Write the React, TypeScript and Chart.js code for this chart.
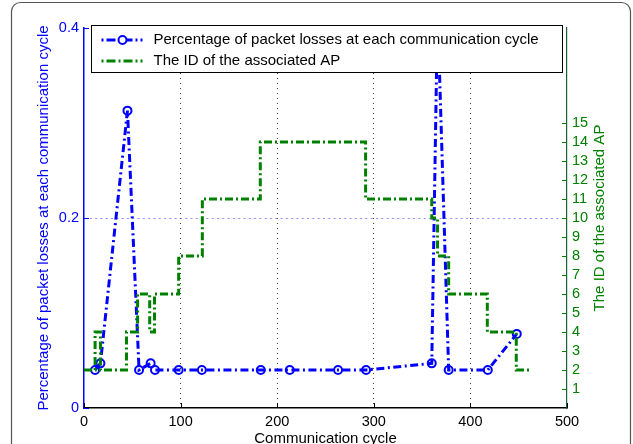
import React, { useEffect, useRef } from "react";
import { Chart, registerables } from "chart.js";

Chart.register(...registerables);

// Axis ticks
const CYCLE_TICKS = [0, 100, 200, 300, 400, 500];
const LOSS_TICKS = [0, 0.2, 0.4];
const AP_TICKS = [1, 2, 3, 4, 5, 6, 7, 8, 9, 10, 11, 12, 13, 14, 15];

// Packet loss measured at the cycles where something happened
const LOSS_CYCLES = [11.5, 17, 45, 57, 69, 73.5, 98, 122, 183, 213, 263, 292, 360, 366, 377.5, 418, 448];
const LOSS_VALUES = [0.04, 0.047, 0.313, 0.04, 0.047, 0.04, 0.04, 0.04, 0.04, 0.04, 0.04, 0.04, 0.047, 0.42, 0.04, 0.04, 0.078];

// Associated AP, held from each cycle until the next entry
const HANDOVER_CYCLES = [0, 11.5, 17, 44, 55.5, 68, 73, 98, 122.5, 182.5, 291.5, 360, 366, 377.5, 417.5, 447.5, 463];
const AP_IDS = [2, 4, 2, 4, 6, 4, 6, 8, 11, 14, 11, 10, 8, 6, 4, 2, 2];

const LOSS_LABEL = "Percentage of packet losses at each communication cycle";
const AP_LABEL = "The ID of the associated AP";
const X_LABEL = "Communication cycle";

const BLUE = "#0000ff";
const GREEN = "#008000";
const FONT = "'Liberation Sans', Arial, Helvetica, sans-serif";
const BLUE_DASH = [8, 3.5, 2, 3.5];
const GREEN_DASH = [8, 3, 2, 3];
const TEXT_SIZE = 15;
const TICK_SIZE = 14.5;

const W = 633;
const H = 444;

const decorations = {
  id: "decorations",
  beforeDraw(chart: any) {
    const { ctx } = chart;
    ctx.save();
    ctx.fillStyle = "#ffffff";
    ctx.fillRect(0, 0, chart.width, chart.height);
    // rounded frame around the figure
    const l = 11.5, r = 630.5, t = 2.5, rad = 9;
    ctx.strokeStyle = "#555555";
    ctx.lineWidth = 1.2;
    ctx.beginPath();
    ctx.moveTo(l, chart.height + 5);
    ctx.lineTo(l, t + rad);
    ctx.arcTo(l, t, l + rad, t, rad);
    ctx.lineTo(r - rad, t);
    ctx.arcTo(r, t, r, t + rad, rad);
    ctx.lineTo(r, chart.height + 5);
    ctx.stroke();
    ctx.restore();
  },
  afterDraw(chart: any) {
    const { ctx, chartArea: ca, scales } = chart;
    const midY = (ca.top + ca.bottom) / 2;
    ctx.save();

    // inward tick marks
    ctx.lineWidth = 1;
    ctx.strokeStyle = "#000";
    CYCLE_TICKS.forEach((v) => {
      const x = Math.round(scales.x.getPixelForValue(v)) + 0.5;
      ctx.beginPath();
      ctx.moveTo(x, ca.bottom);
      ctx.lineTo(x, ca.bottom - 5);
      ctx.stroke();
    });
    ctx.strokeStyle = BLUE;
    LOSS_TICKS.forEach((v) => {
      const y = Math.round(scales.y.getPixelForValue(v)) + 0.5;
      ctx.beginPath();
      ctx.moveTo(ca.left, y);
      ctx.lineTo(ca.left + 5, y);
      ctx.stroke();
    });
    ctx.strokeStyle = GREEN;
    AP_TICKS.forEach((v) => {
      const y = Math.round(scales.y2.getPixelForValue(v)) + 0.5;
      ctx.beginPath();
      ctx.moveTo(ca.right, y);
      ctx.lineTo(ca.right - 5, y);
      ctx.stroke();
    });

    // axis titles
    ctx.font = `${TEXT_SIZE}px ${FONT}`;
    ctx.textAlign = "center";
    ctx.textBaseline = "middle";
    ctx.fillStyle = BLUE;
    ctx.save();
    ctx.translate(44, midY);
    ctx.rotate(-Math.PI / 2);
    ctx.fillText(LOSS_LABEL, 0, 0);
    ctx.restore();
    ctx.fillStyle = GREEN;
    ctx.save();
    ctx.translate(600, midY);
    ctx.rotate(-Math.PI / 2);
    ctx.fillText(AP_LABEL, 0, 0);
    ctx.restore();
    ctx.fillStyle = "#000";
    ctx.textBaseline = "alphabetic";
    ctx.fillText(X_LABEL, (ca.left + ca.right) / 2, 443);

    // legend box
    const bl = ca.left + 7.5, bt = ca.top - 2.5, br = ca.right - 4.5, bb = ca.top + 44.5;
    ctx.fillStyle = "#fff";
    ctx.fillRect(bl, bt, br - bl, bb - bt);
    ctx.strokeStyle = "#000";
    ctx.lineWidth = 1;
    ctx.strokeRect(bl, bt, br - bl, bb - bt);

    const sx0 = bl + 10, sx1 = bl + 51, sxm = bl + 31;
    const row1 = bt + 14.5, row2 = bt + 35.5;
    ctx.lineWidth = 3;
    ctx.strokeStyle = BLUE;
    ctx.setLineDash([2, 3, 9, 3]);
    ctx.beginPath();
    ctx.moveTo(sx0, row1);
    ctx.lineTo(sx1, row1);
    ctx.stroke();
    ctx.setLineDash([]);
    ctx.lineWidth = 2;
    ctx.fillStyle = "#fff";
    ctx.beginPath();
    ctx.arc(sxm, row1, 4, 0, Math.PI * 2);
    ctx.fill();
    ctx.stroke();

    ctx.lineWidth = 3;
    ctx.strokeStyle = GREEN;
    ctx.setLineDash([2, 3, 9, 3]);
    ctx.beginPath();
    ctx.moveTo(sx0, row2);
    ctx.lineTo(sx1, row2);
    ctx.stroke();
    ctx.setLineDash([]);

    ctx.fillStyle = "#000";
    ctx.textAlign = "left";
    ctx.textBaseline = "middle";
    ctx.fillText(LOSS_LABEL, sx1 + 11, row1);
    ctx.fillText(AP_LABEL, sx1 + 11, row2);

    ctx.restore();
  },
};

export default function App() {
  const canvasRef = useRef<HTMLCanvasElement | null>(null);

  useEffect(() => {
    const canvas = canvasRef.current;
    if (!canvas) return;
    Chart.defaults.font.family = FONT;

    const lossPoints = LOSS_CYCLES.map((x, i) => ({ x, y: LOSS_VALUES[i] }));
    const apPoints = HANDOVER_CYCLES.map((x, i) => ({ x, y: AP_IDS[i] }));

    const chart = new Chart(canvas, {
      type: "line",
      data: {
        datasets: [
          {
            label: AP_LABEL,
            data: apPoints,
            yAxisID: "y2",
            borderColor: GREEN,
            borderWidth: 3,
            borderDash: GREEN_DASH,
            stepped: "before",
            pointRadius: 0,
            fill: false,
          },
          {
            label: LOSS_LABEL,
            data: lossPoints,
            yAxisID: "y",
            borderColor: BLUE,
            borderWidth: 3,
            borderDash: BLUE_DASH,
            pointRadius: 4,
            pointBorderWidth: 2,
            pointBorderColor: BLUE,
            pointBackgroundColor: "rgba(0,0,0,0)",
            tension: 0,
            fill: false,
          },
        ],
      },
      options: {
        animation: false,
        responsive: false,
        devicePixelRatio: 1,
        events: [],
        layout: { padding: { top: 28, left: 0, right: 0, bottom: 0 } },
        plugins: { legend: { display: false }, tooltip: { enabled: false } },
        scales: {
          x: {
            type: "linear",
            min: 0,
            max: 500,
            afterBuildTicks: (axis: any) => {
              axis.ticks = CYCLE_TICKS.map((value) => ({ value }));
            },
            afterFit: (axis: any) => {
              axis.height = H - 408;
            },
            ticks: {
              color: "#000",
              font: { size: TICK_SIZE },
              padding: 5,
              maxRotation: 0,
              callback: (v: any) => String(v),
            },
            grid: {
              drawTicks: false,
              lineWidth: 1,
              color: (c: any) =>
                c.tick && (c.tick.value === 0 || c.tick.value === 500) ? "rgba(0,0,0,0)" : "#444",
            },
            border: { display: true, color: "#000", width: 1.5, dash: [1, 4] },
          },
          y: {
            type: "linear",
            position: "left",
            min: 0,
            max: 0.4,
            afterBuildTicks: (axis: any) => {
              axis.ticks = LOSS_TICKS.map((value) => ({ value }));
            },
            afterFit: (axis: any) => {
              axis.width = 84;
            },
            ticks: {
              color: BLUE,
              font: { size: TICK_SIZE },
              padding: 5,
              callback: (v: any) => String(v),
            },
            grid: {
              drawTicks: false,
              lineWidth: 1,
              color: (c: any) =>
                c.tick && c.tick.value === 0.2 ? "rgba(70,70,255,0.6)" : "rgba(0,0,0,0)",
            },
            border: { display: true, color: BLUE, width: 1.5, dash: [2, 3.3] },
          },
          y2: {
            type: "linear",
            position: "right",
            min: 0,
            max: 20,
            afterBuildTicks: (axis: any) => {
              axis.ticks = AP_TICKS.map((value) => ({ value }));
            },
            afterFit: (axis: any) => {
              axis.width = W - 567;
            },
            ticks: {
              color: GREEN,
              font: { size: TICK_SIZE },
              padding: 5,
              callback: (v: any) => String(v),
            },
            grid: { display: false, drawTicks: false },
            border: { display: true, color: "#1a5e3a", width: 1.2 },
          },
        },
      },
      plugins: [decorations],
    });

    return () => chart.destroy();
  }, []);

  return (
    <div style={{ position: "fixed", left: 0, top: 0, width: W, height: H, background: "#fff" }}>
      <canvas ref={canvasRef} width={W} height={H} style={{ display: "block", width: W, height: H }} />
    </div>
  );
}
